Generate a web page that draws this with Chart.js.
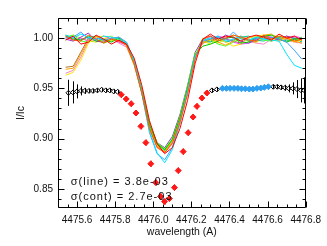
<!DOCTYPE html>
<html>
<head>
<meta charset="utf-8">
<script src="https://cdn.jsdelivr.net/npm/chart.js@4/dist/chart.umd.min.js"></script>
<style>
html, body { margin: 0; padding: 0; background: #fff; }
</style>
</head>
<body>
<canvas id="chart" width="327" height="246"></canvas>
<script>
// wavelength grid of the observed profiles
const wave = [4475.54, 4475.58, 4475.62, 4475.66, 4475.70, 4475.74, 4475.78, 4475.82,
  4475.86, 4475.90, 4475.94, 4475.98, 4476.02, 4476.06, 4476.10, 4476.14,
  4476.18, 4476.22, 4476.26, 4476.30, 4476.34, 4476.38, 4476.42, 4476.46,
  4476.50, 4476.54, 4476.58, 4476.62, 4476.66, 4476.70, 4476.74, 4476.78];

const specRed = [0.998, 1.002, 0.994, 0.996, 1.003, 0.999, 0.994, 0.998, 0.994, 0.980, 0.953, 0.918, 0.895, 0.885, 0.891, 0.910, 0.938, 0.975, 0.999, 1.004, 0.999, 1.002, 1.001, 0.997, 1.001, 1.003, 1.001, 0.998, 1.004, 1.000, 1.002, 0.998];
const specOrangeRed = [1.002, 0.998, 0.997, 1.003, 0.999, 0.995, 0.999, 0.997, 0.993, 0.974, 0.945, 0.910, 0.891, 0.886, 0.895, 0.916, 0.944, 0.979, 0.999, 1.002, 0.997, 1.000, 1.003, 1.001, 0.998, 0.997, 1.003, 0.999, 1.002, 1.000, 0.997, 0.999];
const specOrange = [0.969, 0.970, 0.984, 0.998, 1.002, 0.997, 0.999, 1.001, 0.992, 0.973, 0.945, 0.911, 0.892, 0.887, 0.897, 0.920, 0.950, 0.983, 0.995, 0.999, 0.996, 0.993, 0.997, 1.002, 0.999, 0.996, 1.003, 1.004, 0.999, 1.001, 0.997, 0.995];
const specYellow = [0.963, 0.966, 0.978, 0.995, 1.001, 1.002, 0.997, 0.999, 0.993, 0.976, 0.948, 0.913, 0.893, 0.887, 0.898, 0.921, 0.951, 0.984, 0.997, 0.994, 0.999, 0.996, 0.992, 0.994, 1.000, 1.002, 1.003, 0.999, 0.997, 1.000, 0.996, 0.998];
const specYellowGreen = [0.998, 1.003, 1.000, 0.997, 0.996, 0.999, 1.002, 0.997, 0.994, 0.977, 0.949, 0.915, 0.896, 0.889, 0.899, 0.922, 0.951, 0.984, 1.000, 0.997, 0.995, 0.999, 1.003, 1.000, 0.997, 0.996, 1.000, 1.003, 1.001, 0.997, 1.000, 0.998];
const specLime = [1.001, 1.003, 0.997, 0.996, 1.002, 0.995, 0.998, 1.001, 0.995, 0.978, 0.949, 0.915, 0.896, 0.890, 0.900, 0.922, 0.952, 0.985, 0.996, 0.999, 0.994, 0.992, 0.996, 1.000, 0.997, 1.001, 0.998, 0.997, 1.002, 0.999, 0.997, 1.001];
const specGreen = [1.002, 0.999, 0.998, 1.002, 0.997, 0.999, 0.996, 1.000, 0.994, 0.977, 0.948, 0.914, 0.895, 0.889, 0.899, 0.921, 0.951, 0.984, 0.992, 0.994, 0.997, 1.000, 1.001, 0.995, 0.996, 1.000, 1.002, 1.003, 0.999, 0.996, 0.999, 1.000];
const specTeal = [1.003, 1.000, 0.998, 1.001, 1.002, 0.998, 0.997, 1.000, 0.994, 0.976, 0.947, 0.913, 0.894, 0.888, 0.898, 0.921, 0.950, 0.983, 0.997, 0.996, 1.000, 0.996, 0.998, 1.001, 1.002, 0.998, 0.997, 1.000, 1.001, 0.997, 1.000, 0.996];
const specCyan = [1.003, 1.000, 1.004, 1.001, 0.998, 1.002, 1.001, 0.999, 0.995, 0.978, 0.946, 0.908, 0.886, 0.876, 0.889, 0.915, 0.947, 0.982, 0.998, 1.000, 1.002, 0.997, 0.999, 1.002, 0.998, 1.001, 0.999, 0.998, 0.997, 0.984, 0.973, 0.970];
const specSky = [1.000, 1.001, 1.006, 0.999, 1.000, 0.998, 1.000, 1.001, 0.996, 0.978, 0.945, 0.906, 0.885, 0.879, 0.891, 0.916, 0.947, 0.981, 0.997, 0.999, 1.001, 0.998, 1.006, 0.999, 0.998, 1.000, 0.999, 1.001, 0.999, 0.996, 0.988, 0.979];
const specPurple = [0.999, 0.997, 1.001, 1.005, 0.997, 0.996, 1.000, 0.998, 0.993, 0.976, 0.948, 0.915, 0.896, 0.891, 0.902, 0.924, 0.953, 0.986, 0.999, 1.002, 0.998, 1.003, 1.000, 0.997, 0.995, 0.998, 1.002, 1.000, 0.998, 1.002, 1.000, 0.999];
const specMagenta = [1.001, 0.998, 1.000, 0.997, 0.999, 1.002, 0.999, 0.996, 0.993, 0.975, 0.946, 0.911, 0.892, 0.886, 0.897, 0.920, 0.949, 0.983, 0.996, 0.999, 1.002, 1.000, 0.996, 0.994, 0.995, 0.999, 1.002, 1.001, 0.997, 0.999, 1.002, 1.000];
const specPink = [0.965, 0.968, 0.981, 0.997, 1.002, 0.998, 0.999, 0.995, 0.991, 0.974, 0.946, 0.912, 0.892, 0.886, 0.896, 0.918, 0.947, 0.981, 0.997, 1.001, 0.999, 0.996, 0.999, 1.002, 0.997, 0.995, 0.994, 0.999, 1.001, 0.998, 0.996, 0.995];
const specBrown = [0.971, 0.972, 0.986, 1.000, 0.997, 0.996, 1.000, 0.998, 0.993, 0.975, 0.947, 0.912, 0.893, 0.887, 0.896, 0.919, 0.948, 0.982, 0.995, 0.997, 1.001, 0.999, 0.997, 0.995, 1.000, 1.002, 1.000, 0.997, 0.999, 1.002, 0.999, 0.997];

// black continuum points (left wing) with errors
const contLeftX = [4475.555, 4475.579, 4475.600, 4475.621, 4475.641, 4475.663, 4475.684, 4475.707, 4475.729, 4475.751, 4475.772, 4475.792, 4475.813];
const contLeftY = [0.9456, 0.9460, 0.9470, 0.9475, 0.9475, 0.9475, 0.9475, 0.9480, 0.9486, 0.9480, 0.9480, 0.9470, 0.9466];
const contLeftErr = [0.013, 0.011, 0.007, 0.0045, 0.003, 0.002, 0.002, 0.002, 0.002, 0.002, 0.002, 0.002, 0.002];

// red line points
const lineX = [4475.832, 4475.858, 4475.884, 4475.909, 4475.935, 4475.961, 4475.987, 4476.013, 4476.038, 4476.059,
  4476.085, 4476.111, 4476.131, 4476.157, 4476.183, 4476.209, 4476.229, 4476.255, 4476.281];
const lineY = [0.9437, 0.9394, 0.9347, 0.9255, 0.9122, 0.8960, 0.8750, 0.8563, 0.8424, 0.8374,
  0.8404, 0.8513, 0.8682, 0.8871, 0.9059, 0.9215, 0.9321, 0.9404, 0.9454];
const lineErr = [0.003, 0.003, 0.003, 0.003, 0.003, 0.003, 0.003, 0.003, 0.003, 0.003,
  0.003, 0.003, 0.003, 0.003, 0.003, 0.003, 0.003, 0.003, 0.003];

// black continuum points (right wing)
const contRightX = [4476.308, 4476.334, 4476.630, 4476.651, 4476.671, 4476.692, 4476.712, 4476.733, 4476.754, 4476.776, 4476.793];
const contRightY = [0.9480, 0.9490, 0.9516, 0.9516, 0.9510, 0.9506, 0.9500, 0.9500, 0.9493, 0.9480, 0.9480];
const contRightErr = [0.002, 0.002, 0.002, 0.002, 0.002, 0.003, 0.004, 0.006, 0.009, 0.012, 0.013];

// blue points
const blueX = [4476.363, 4476.384, 4476.403, 4476.424, 4476.444, 4476.463, 4476.483, 4476.504, 4476.523, 4476.544, 4476.564, 4476.583, 4476.604];
const blueY = [0.9500, 0.9500, 0.9500, 0.9500, 0.9500, 0.9496, 0.9496, 0.9493, 0.9493, 0.9500, 0.9503, 0.9510, 0.9516];

const xTicks = [4475.6, 4475.8, 4476.0, 4476.2, 4476.4, 4476.6, 4476.8];
const yTicks = [0.85, 0.90, 0.95, 1.00];
const notes = ["σ(line) = 3.8e-03", "σ(cont) = 2.7e-03"];

const FONT = "'Liberation Sans', Arial, Helvetica, sans-serif";
const toXY = (xs, ys) => xs.map((v, i) => ({ x: v, y: ys[i] }));

const spectra = [
  [specRed, "#ff0000"], [specOrangeRed, "#ff5a00"], [specCyan, "#00e6ff"], [specSky, "#3ca0ff"],
  [specGreen, "#00c800"], [specOrange, "#ffa000"], [specYellow, "#ffe600"], [specLime, "#55ff33"],
  [specPurple, "#9632c8"], [specMagenta, "#ff3cff"], [specTeal, "#00c8a0"], [specYellowGreen, "#b4f000"],
  [specPink, "#ff82c8"], [specBrown, "#aa7832"]
];

const pointSets = [
  { data: toXY(lineX, lineY), errors: lineErr, pointStyle: "rectRot", pointRadius: 3,
    backgroundColor: "#ff1a1a", borderColor: "#ff1a1a", showLine: false },
  { data: toXY(blueX, blueY), pointStyle: "rectRot", pointRadius: 3,
    backgroundColor: "#2d9ff0", borderColor: "#2d9ff0", showLine: false },
  { data: toXY(contLeftX, contLeftY), errors: contLeftErr, pointStyle: "rectRot", pointRadius: 2.5,
    backgroundColor: "#ffffff", borderColor: "#000000", pointBorderWidth: 1, showLine: false },
  { data: toXY(contRightX, contRightY), errors: contRightErr, pointStyle: "rectRot", pointRadius: 2.5,
    backgroundColor: "#ffffff", borderColor: "#000000", pointBorderWidth: 1, showLine: false }
];

const lineSets = spectra.map(([vals, col]) => ({
  data: toXY(wave, vals), borderColor: col, backgroundColor: col, borderWidth: 1,
  pointRadius: 0, tension: 0, fill: false, showLine: true
}));

const errorBars = {
  id: "errorBars",
  afterDatasetsDraw(chart) {
    const { ctx } = chart;
    const x = chart.scales.x, y = chart.scales.y;
    chart.data.datasets.forEach(ds => {
      if (!ds.errors) return;
      ctx.save();
      ctx.strokeStyle = ds.borderColor;
      ctx.lineWidth = 1;
      ctx.beginPath();
      ds.data.forEach((p, j) => {
        const px = Math.round(x.getPixelForValue(p.x)) + 0.5;
        ctx.moveTo(px, y.getPixelForValue(p.y - ds.errors[j]));
        ctx.lineTo(px, y.getPixelForValue(p.y + ds.errors[j]));
      });
      ctx.stroke();
      ctx.restore();
    });
  }
};

const frame = {
  id: "frame",
  afterDraw(chart) {
    const { ctx, chartArea: a } = chart;
    const x = chart.scales.x, y = chart.scales.y;
    const L = Math.round(a.left) + 0.5, R = Math.round(a.right) - 0.5;
    const T = Math.round(a.top) + 0.5, B = Math.round(a.bottom) - 0.5;
    ctx.save();
    ctx.strokeStyle = "#000";
    ctx.lineWidth = 1;
    ctx.beginPath();
    ctx.rect(L, T, R - L, B - T);
    // x ticks, top and bottom, pointing inward
    for (let v = 4475.5; v <= 4476.8001; v += 0.05) {
      const px = Math.round(x.getPixelForValue(v)) + 0.5;
      const major = xTicks.some(t => Math.abs(t - v) < 1e-6);
      const len = major ? 6 : 3;
      ctx.moveTo(px, B); ctx.lineTo(px, B - len);
      ctx.moveTo(px, T); ctx.lineTo(px, T + len);
    }
    for (let v = 0.84; v <= 1.0201; v += 0.01) {
      const py = Math.round(y.getPixelForValue(v)) + 0.5;
      const major = yTicks.some(t => Math.abs(t - v) < 1e-6);
      const len = major ? 6 : 3;
      ctx.moveTo(L, py); ctx.lineTo(L + len, py);
      ctx.moveTo(R, py); ctx.lineTo(R - len, py);
    }
    ctx.stroke();
    // sigma notes
    ctx.fillStyle = "#111";
    ctx.font = "11px " + FONT;
    ctx.letterSpacing = "1px";
    ctx.textBaseline = "middle";
    ctx.fillText(notes[0], x.getPixelForValue(4475.567), y.getPixelForValue(0.857));
    ctx.fillText(notes[1], x.getPixelForValue(4475.567), y.getPixelForValue(0.842));
    ctx.restore();
  }
};

new Chart(document.getElementById("chart"), {
  type: "scatter",
  data: { datasets: [...pointSets, ...lineSets] },
  options: {
    responsive: false,
    animation: false,
    layout: { padding: { left: 0, right: 17, top: 18, bottom: 0 } },
    plugins: { legend: { display: false }, tooltip: { enabled: false } },
    scales: {
      x: {
        type: "linear", min: 4475.5, max: 4476.8,
        afterBuildTicks: s => { s.ticks = xTicks.map(v => ({ value: v })); },
        afterFit: s => { s.height = 38; },
        grid: { display: false, drawTicks: false },
        border: { display: false },
        ticks: { callback: v => v.toFixed(1), font: { size: 10, family: FONT }, color: "#111",
          maxRotation: 0, autoSkip: false, padding: 6 },
        title: { display: true, text: "wavelength (A)", font: { size: 10.5, family: FONT }, color: "#111",
          padding: { top: 0, bottom: 8 } }
      },
      y: {
        type: "linear", min: 0.831, max: 1.02,
        afterBuildTicks: s => { s.ticks = yTicks.map(v => ({ value: v })); },
        afterFit: s => { s.width = 58; },
        grid: { display: false, drawTicks: false },
        border: { display: false },
        ticks: { callback: v => v.toFixed(2), font: { size: 10, family: FONT }, color: "#111", padding: 5 },
        title: { display: true, text: "I/Ic", font: { size: 10.5, family: FONT }, color: "#111",
          padding: { top: 15, bottom: 0 } }
      }
    }
  },
  plugins: [errorBars, frame]
});
</script>
</body>
</html>
